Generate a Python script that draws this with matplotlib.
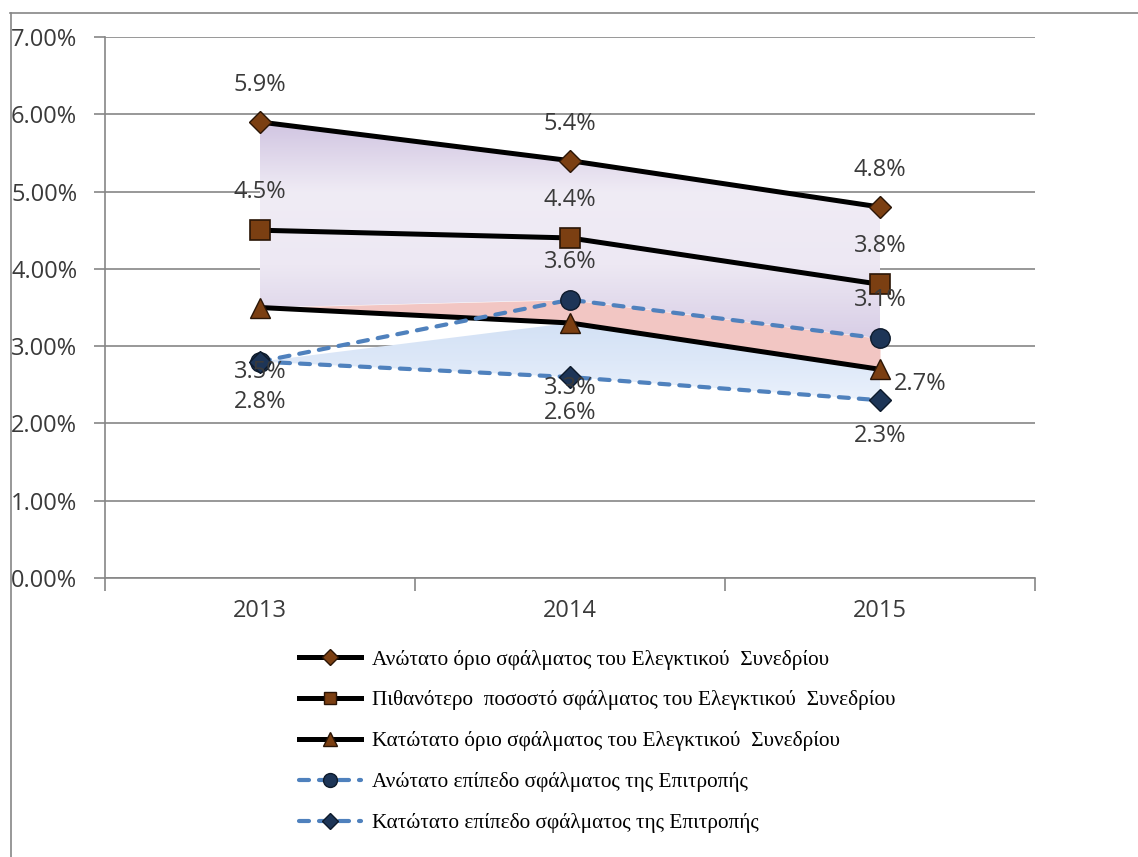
import numpy as np
import matplotlib
matplotlib.use('Agg')
import matplotlib.pyplot as plt
from matplotlib.ticker import PercentFormatter, FixedLocator
from matplotlib.lines import Line2D
from matplotlib.colors import LinearSegmentedColormap

# data (fractions)
years = ['2013', '2014', '2015']
eca_upper = [0.059, 0.054, 0.048]
eca_likely = [0.045, 0.044, 0.038]
eca_lower = [0.035, 0.033, 0.027]
com_upper = [0.028, 0.036, 0.031]
com_lower = [0.028, 0.026, 0.023]

labels = [
    'Ανώτατο όριο σφάλματος του Ελεγκτικού  Συνεδρίου',
    'Πιθανότερο  ποσοστό σφάλματος του Ελεγκτικού  Συνεδρίου',
    'Κατώτατο όριο σφάλματος του Ελεγκτικού  Συνεδρίου',
    'Ανώτατο επίπεδο σφάλματος της Επιτροπής',
    'Κατώτατο επίπεδο σφάλματος της Επιτροπής',
]

num_font = 'Open Sans'
txt_col = '#3a3a3a'
brown = '#7b3f12'
navy = '#1d3557'
blue = '#4f81bd'
dash = (0, (2.4, 2.4))

fig = plt.figure(figsize=(11.38, 8.57), dpi=100)
ax = fig.add_axes([105/1138, 1-578/857, 930/1138, 541/857])

x = np.arange(len(years)) + 0.5
top_band = np.maximum(eca_lower, com_upper)
low_band = np.minimum(eca_lower, com_upper)


def gradient_fill(y1, y2, colors):
    # filled band shaded with a vertical gradient
    poly = ax.fill_between(x, y1, y2, facecolor='none', lw=0)
    lo = min(min(y1), min(y2))
    hi = max(max(y1), max(y2))
    cmap = LinearSegmentedColormap.from_list('g', colors)
    grad = np.linspace(0, 1, 256).reshape(-1, 1)
    im = ax.imshow(grad, extent=[0, 3, lo, hi], aspect='auto', origin='lower',
                   cmap=cmap, zorder=1)
    im.set_clip_path(poly.get_paths()[0], transform=ax.transData)


gradient_fill(eca_upper, top_band, ['#d8cee6', '#ede8f3', '#f0ecf5', '#d0c4e1'])
ax.fill_between(x, top_band, eca_lower, color='#f2c6c3', lw=0, zorder=1)
gradient_fill(low_band, com_lower, ['#eaf1fc', '#dde8f8', '#d3e1f5'])

# ECA lines
ax.plot(x, eca_upper, color='black', lw=3.6, marker='D', ms=11, mfc=brown, mec='#2a1506', mew=1, zorder=3)
ax.plot(x, eca_likely, color='black', lw=3.6, marker='s', ms=14, mfc=brown, mec='#2a1506', mew=1.2, zorder=3)
ax.plot(x, eca_lower, color='black', lw=3.6, marker='^', ms=15, mfc=brown, mec='#2a1506', mew=1, zorder=3)
# Commission lines
ax.plot(x, com_upper, color=blue, lw=3, ls=dash, dash_capstyle='round', marker='o', ms=14,
        mfc=navy, mec='#0d1a2b', mew=1, zorder=4)
ax.plot(x, com_lower, color=blue, lw=3, ls=dash, dash_capstyle='round', marker='D', ms=11,
        mfc=navy, mec='#0d1a2b', mew=1, zorder=4)

# data labels (offsets in pixels converted to points)
px = 0.72
def lab(xv, yv, dx, dy):
    ax.annotate(f'{yv*100:.1f}%', (xv, yv), xytext=(dx*px, dy*px), textcoords='offset points',
                ha='center', va='center', fontsize=17, family=num_font, color=txt_col, zorder=6)

for i in range(3):
    lab(x[i], eca_upper[i], 0, 37)
    lab(x[i], eca_likely[i], 0, 38)
    lab(x[i], com_upper[i], 0, -40 if i == 0 else 38)
for i in range(2):
    lab(x[i], eca_lower[i], 0, -65)
lab(x[2], eca_lower[2], 40, -15)
for i in range(1, 3):
    lab(x[i], com_lower[i], 0, -36)

# axes styling
ax.set_xlim(0, 3)
ax.set_ylim(0, 0.07)
ax.set_yticks(np.arange(0, 0.0701, 0.01))
ax.yaxis.set_major_formatter(PercentFormatter(1.0, decimals=2))
ax.set_xticks(x)
ax.set_xticklabels(years)
ax.xaxis.set_minor_locator(FixedLocator([0, 1, 2, 3]))
ax.tick_params(axis='x', which='major', length=0, pad=15, labelsize=17, labelcolor=txt_col)
ax.tick_params(axis='x', which='minor', length=9, color='#868686', width=1.2, direction='out')
ax.tick_params(axis='y', length=8, color='#868686', width=1.2, pad=12, labelsize=17, labelcolor=txt_col)
for t in ax.get_xticklabels() + ax.get_yticklabels():
    t.set_family(num_font)
ax.grid(axis='y', color='#868686', lw=1.2, zorder=0)
ax.set_axisbelow(True)
for side in ['top', 'right']:
    ax.spines[side].set_visible(False)
ax.spines['left'].set_color('#868686')
ax.spines['bottom'].set_color('#868686')
ax.spines['left'].set_linewidth(1.2)
ax.spines['bottom'].set_linewidth(1.2)

# legend
handles = [
    Line2D([], [], color='black', lw=3.6, marker='D', ms=8, mfc=brown, mec='#2a1506'),
    Line2D([], [], color='black', lw=3.6, marker='s', ms=9, mfc=brown, mec='#2a1506'),
    Line2D([], [], color='black', lw=3.6, marker='^', ms=10, mfc=brown, mec='#2a1506'),
    Line2D([], [], color=blue, lw=3, ls=dash, dash_capstyle='round', marker='o', ms=10, mfc=navy, mec='#0d1a2b'),
    Line2D([], [], color=blue, lw=3, ls=dash, dash_capstyle='round', marker='D', ms=8, mfc=navy, mec='#0d1a2b'),
]
fig.legend(handles, labels, loc='center', bbox_to_anchor=(0.525, 0.135), frameon=False,
           prop={'family': 'Liberation Serif', 'size': 15.3}, handlelength=2.9,
           labelspacing=0.98, handletextpad=0.55)

# outer chart border (top and left)
fig.add_artist(Line2D([10/1138, 1], [1-13/857, 1-13/857], color='#868686', lw=1.2, transform=fig.transFigure))
fig.add_artist(Line2D([11/1138, 11/1138], [0, 1-13/857], color='#868686', lw=1.2, transform=fig.transFigure))

fig.savefig('out.png', dpi=100)
